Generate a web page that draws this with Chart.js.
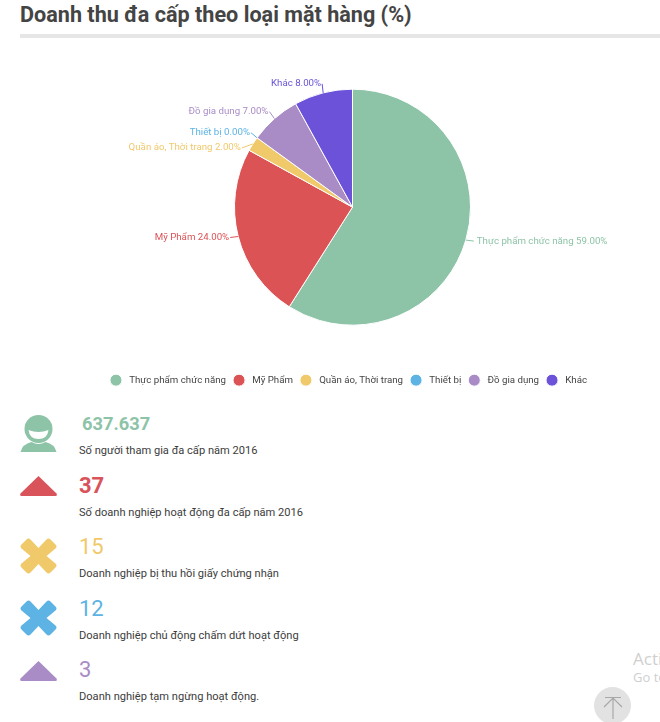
<!DOCTYPE html>
<html>
<head>
<meta charset="utf-8">
<script src="https://cdn.jsdelivr.net/npm/chart.js@4"></script>
<style>
    html, body { margin: 0; padding: 0; background: #fff; }
    body { width: 660px; height: 722px; position: relative; overflow: hidden; font-family: Roboto, sans-serif; color: #444; }
    h1 { position: absolute; left: 20px; top: 0; margin: 0; font-size: 21.6px; line-height: 30px; font-weight: 700; color: #444; white-space: nowrap; }
    #rule { position: absolute; left: 20px; right: 0; top: 34px; height: 4px; background: #e6e6e6; }
    #chart-box { position: absolute; left: 45px; top: 40px; width: 615px; height: 355px; }
    .icon { position: absolute; left: 19px; width: 39px; height: 39px; }
    .stat-num { position: absolute; font-size: 22px; line-height: 26px; white-space: nowrap; }
    .stat-text { position: absolute; left: 79px; font-size: 11.100px; line-height: 16px; font-weight: 400; color: #3c3c3c; white-space: nowrap; }
    #totop { position: absolute; left: 594px; top: 687px; width: 37px; height: 37px; }
    .watermark { position: absolute; left: 633px; color: #cfcfcf; font-family: "Open Sans", sans-serif; white-space: nowrap; }
</style>
</head>
<body>
<h1>Doanh thu đa cấp theo loại mặt hàng (%)</h1>
<div id="rule"></div>
<div id="chart-box"><canvas id="pieChart"></canvas></div>
<div id="stats"></div>

<div class="watermark" style="top: 648px; font-size: 17px; line-height: 22px;">Acti</div>
<div class="watermark" style="top: 669px; font-size: 13px; line-height: 17px;">Go to</div>
<svg id="totop" viewBox="0 0 37 37">
    <circle cx="18.5" cy="18.5" r="18.5" fill="#e2e2e2"/>
    <path d="M11 10.500H27M19 11V32M10 20L19 11L28 20" fill="none" stroke="#a8a8a8" stroke-width="1.200"/>
</svg>

<script>
const categories = ['Thực phẩm chức năng', 'Mỹ Phẩm', 'Quần áo, Thời trang', 'Thiết bị', 'Đồ gia dụng', 'Khác'];
const shares = [59, 24, 2, 0, 7, 8];
const colors = ['#8dc3a7', '#dc5356', '#f0c96b', '#5db3e4', '#a98cc6', '#6b52d9'];

const statValues = ['637.637', '37', '15', '12', '3'];
const statTexts = [
    'Số người tham gia đa cấp năm 2016',
    'Số doanh nghiệp hoạt động đa cấp năm 2016',
    'Doanh nghiệp bị thu hồi giấy chứng nhận',
    'Doanh nghiệp chủ động chấm dứt hoạt động',
    'Doanh nghiệp tạm ngừng hoạt động.'
];
const statColors = ['#8dc3a7', '#d9535a', '#f0c96b', '#5db3e4', '#a98cc6'];

// icon drawings for the list under the chart
const triangle = '<path d="M19 3L37 20.500Q38 23 36 23H2Q0 23 1 20.500Z"/>';
const cross = '<path d="M19 12L27 3.500Q29 1.500 31 3.500L36 8.500Q38 10.500 36 12.500L27 20L36 27.500Q38 29.500 36 31.500L31 36.500Q29 38.500 27 36.500L19 28L11 36.500Q9 38.500 7 36.500L2 31.500Q0 29.500 2 27.500L11 20L2 12.500Q0 10.500 2 8.500L7 3.500Q9 1.500 11 3.500Z"/>';
const person = '<circle cx="19" cy="14" r="14"/><path d="M9 15Q19 19 29 15Q28 24 19 24Q10 24 9 15Z" fill="#fff"/>' +
    '<path d="M1 37Q3 29 12 27Q19 31 26 27Q35 29 37 37Z"/>';
const statIcons = [person, triangle, cross, cross, triangle];
const statTops = [415, 473, 536, 598, 658];

// build the list
const statsDiv = document.getElementById('stats');
statValues.forEach(function (value, i) {
    const row = 61.5 * i;
    const bold = i < 2;
    statsDiv.innerHTML += `
        <svg class="icon" style="top: ${statTops[i]}px; fill: ${statColors[i]};" viewBox="0 0 38 39">${statIcons[i]}</svg>
        <div class="stat-num" style="left: ${i === 0 ? 82 : 79}px; top: ${411 + row}px; color: ${statColors[i]};
            font-weight: ${bold ? 700 : 400}; font-size: ${i === 0 ? 18.3 : 22}px;">${value}</div>
        <div class="stat-text" style="top: ${443 + row}px;">${statTexts[i]}</div>`;
});

// where each label ends relative to the edge of its slice
const labelOffsets = [[8, 1], [-8, 1], [-11, 4], [-6, -5], [-5, -7], [-1, -9]];

const sliceLabels = {
    id: 'sliceLabels',
    afterLayout(chart) {
        // the legend sits slightly left of the pie in the reference
        chart.legend.left -= 4;
        chart.legend.right -= 4;
    },
    afterDatasetsDraw(chart) {
        const ctx = chart.ctx;
        chart.getDatasetMeta(0).data.forEach(function (arc, i) {
            const mid = (arc.startAngle + arc.endAngle) / 2;
            const x0 = arc.x + arc.outerRadius * Math.cos(mid);
            const y0 = arc.y + arc.outerRadius * Math.sin(mid);
            const x1 = x0 + labelOffsets[i][0];
            const y1 = y0 + labelOffsets[i][1];
            const right = labelOffsets[i][0] > 0;

            ctx.save();
            ctx.strokeStyle = colors[i];
            ctx.lineWidth = 1;
            ctx.beginPath();
            ctx.moveTo(x0, y0);
            ctx.lineTo(x1, y1);
            ctx.stroke();

            ctx.fillStyle = colors[i];
            ctx.font = '400 9.700px Roboto';
            ctx.textBaseline = 'middle';
            ctx.textAlign = right ? 'left' : 'right';
            ctx.fillText(categories[i] + ' ' + shares[i].toFixed(2) + '%', x1 + (right ? 3 : -1), y1);
            ctx.restore();
        });
    }
};

new Chart(document.getElementById('pieChart').getContext('2d'), {
    type: 'pie',
    data: {
        labels: categories,
        datasets: [{
            data: shares,
            backgroundColor: colors,
            borderColor: '#ffffff',
            borderWidth: 1,
            radius: 118
        }]
    },
    options: {
        responsive: true,
        maintainAspectRatio: false,
        animation: false,
        layout: { padding: { top: 6 } },
        plugins: {
            tooltip: { enabled: false },
            legend: {
                position: 'bottom',
                labels: {
                    usePointStyle: true,
                    pointStyle: 'circle',
                    boxHeight: 8.5,
                    pointStyleWidth: 12,
                    padding: 7,
                    color: '#444',
                    font: { family: 'Roboto', size: 9.700 },
                    // small gap between the dot and its text
                    generateLabels(chart) {
                        return Chart.overrides.pie.plugins.legend.labels.generateLabels(chart).map(function (item) {
                            item.text = '\u00a0' + item.text;
                            return item;
                        });
                    }
                }
            }
        }
    },
    plugins: [sliceLabels]
});
</script>
</body>
</html>
